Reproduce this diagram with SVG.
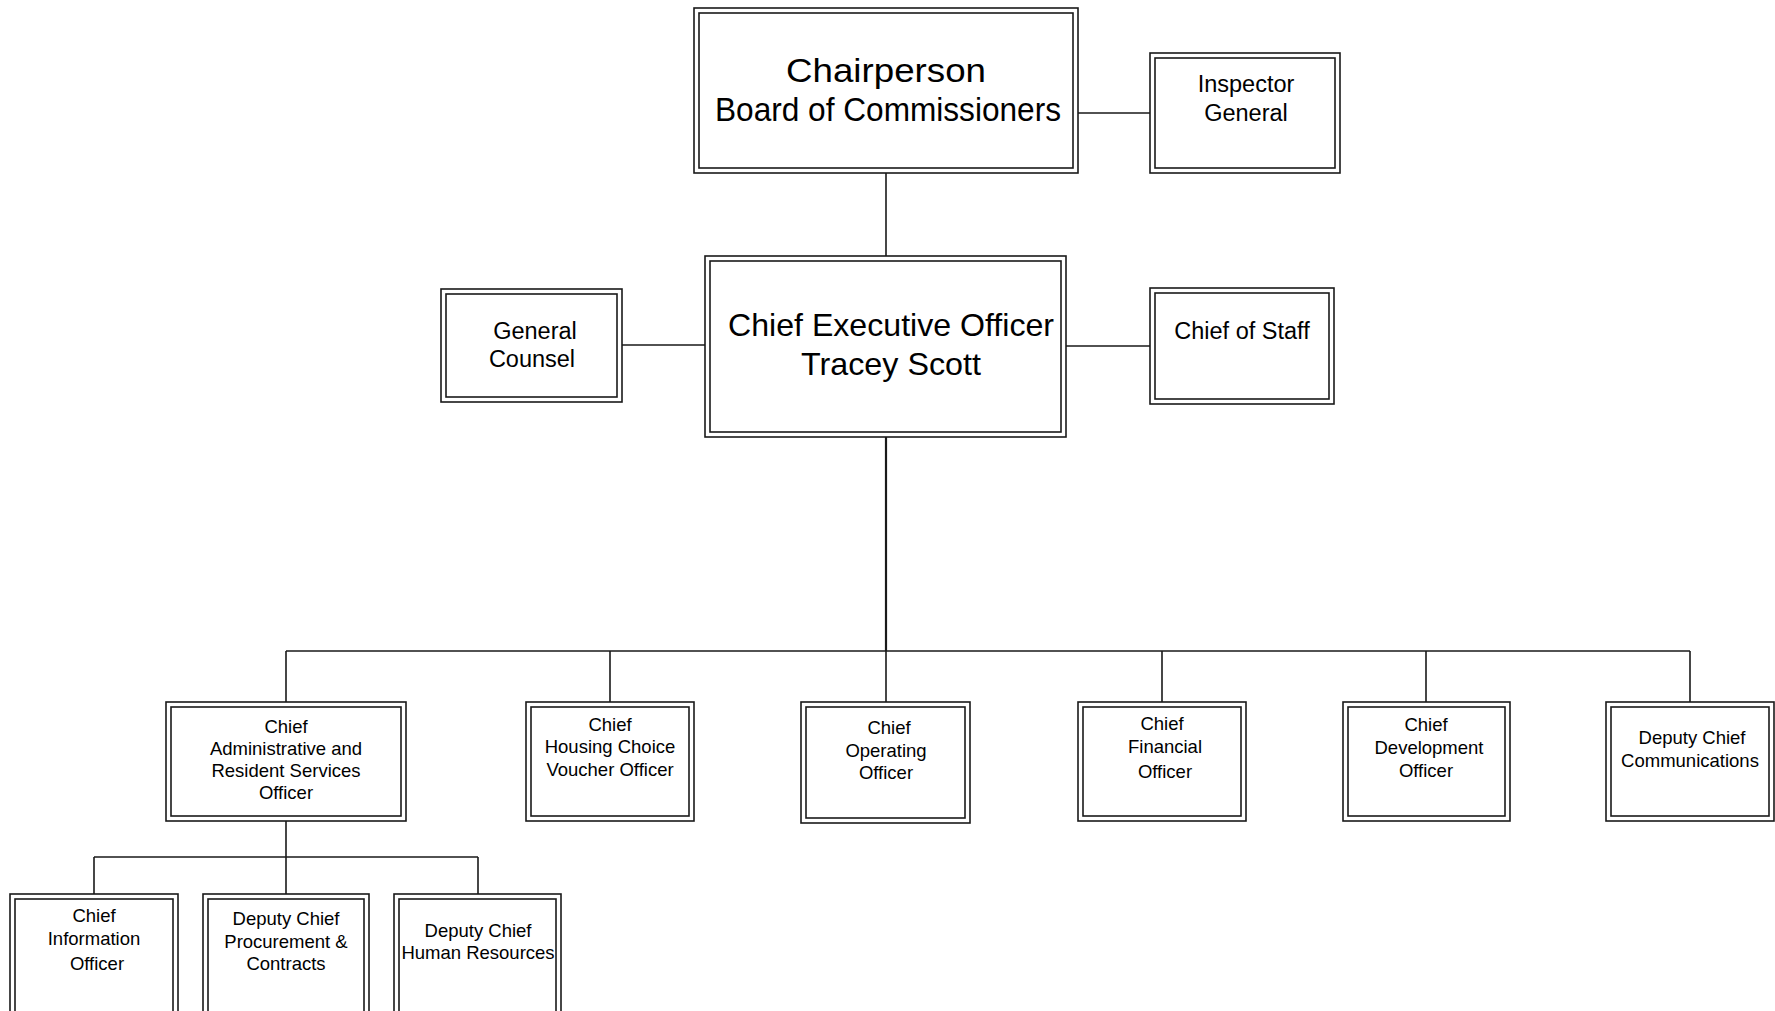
<svg xmlns="http://www.w3.org/2000/svg" width="1775" height="1011" viewBox="0 0 1775 1011">
<style>
.o{fill:#fff;stroke:#1a1a1a;stroke-width:1.6}
.i{fill:none;stroke:#1a1a1a;stroke-width:1.6}
.c{fill:none;stroke:#1a1a1a;stroke-width:1.6}
text{font-family:"Liberation Sans",Arial,sans-serif;fill:#000;text-anchor:middle}
.xl{font-size:32px}
.xxl{font-size:33px}
.l{font-size:23.5px}
.s{font-size:18.5px}
</style>
<rect width="1775" height="1011" fill="#fff"/>
<g id="connectors">
<path class="c" d="M886,173V256M1078,113H1150M622,345H705M1066,346H1150"/>
<path class="c" d="M886,437V651" style="stroke-width:2.2"/>
<path class="c" d="M286,651H1690M286,651V702M610,651V702M886,651V702M1162,651V702M1426,651V702M1690,651V702"/>
<path class="c" d="M286,821V857M94,857H478M94,857V894M286,857V894M478,857V894"/>
</g>
<g id="chair">
<rect class="o" x="694" y="8" width="384" height="165"/><rect class="i" x="699" y="13" width="374" height="155"/>
<text class="xxl" x="886" y="82" textLength="200" lengthAdjust="spacingAndGlyphs">Chairperson</text>
<text class="xxl" x="888" y="121" textLength="346" lengthAdjust="spacingAndGlyphs">Board of Commissioners</text>
</g>
<g id="inspector">
<rect class="o" x="1150" y="53" width="190" height="120"/><rect class="i" x="1155" y="58" width="180" height="110"/>
<text class="l" x="1246" y="92">Inspector</text>
<text class="l" x="1246" y="121">General</text>
</g>
<g id="ceo">
<rect class="o" x="705" y="256" width="361" height="181"/><rect class="i" x="710" y="261" width="351" height="171"/>
<text class="xl" x="891" y="336" textLength="326" lengthAdjust="spacingAndGlyphs">Chief Executive Officer</text>
<text class="xl" x="891" y="375" textLength="180" lengthAdjust="spacingAndGlyphs">Tracey Scott</text>
</g>
<g id="counsel">
<rect class="o" x="441" y="289" width="181" height="113"/><rect class="i" x="446" y="294" width="171" height="103"/>
<text class="l" x="535" y="339">General</text>
<text class="l" x="532" y="367">Counsel</text>
</g>
<g id="staff">
<rect class="o" x="1150" y="288" width="184" height="116"/><rect class="i" x="1155" y="293" width="174" height="106"/>
<text class="l" x="1242" y="339">Chief of Staff</text>
</g>
<g id="cao">
<rect class="o" x="166" y="702" width="240" height="119"/><rect class="i" x="171" y="707" width="230" height="109"/>
<text class="s" x="286" y="733">Chief</text>
<text class="s" x="286" y="755">Administrative and</text>
<text class="s" x="286" y="777">Resident Services</text>
<text class="s" x="286" y="799">Officer</text>
</g>
<g id="hcv">
<rect class="o" x="526" y="702" width="168" height="119"/><rect class="i" x="531" y="707" width="158" height="109"/>
<text class="s" x="610" y="731">Chief</text>
<text class="s" x="610" y="753">Housing Choice</text>
<text class="s" x="610" y="776">Voucher Officer</text>
</g>
<g id="coo">
<rect class="o" x="801" y="702" width="169" height="121"/><rect class="i" x="806" y="707" width="159" height="111"/>
<text class="s" x="889" y="734">Chief</text>
<text class="s" x="886" y="757">Operating</text>
<text class="s" x="886" y="779">Officer</text>
</g>
<g id="cfo">
<rect class="o" x="1078" y="702" width="168" height="119"/><rect class="i" x="1083" y="707" width="158" height="109"/>
<text class="s" x="1162" y="730">Chief</text>
<text class="s" x="1165" y="753">Financial</text>
<text class="s" x="1165" y="778">Officer</text>
</g>
<g id="cdo">
<rect class="o" x="1343" y="702" width="167" height="119"/><rect class="i" x="1348" y="707" width="157" height="109"/>
<text class="s" x="1426" y="731">Chief</text>
<text class="s" x="1429" y="754">Development</text>
<text class="s" x="1426" y="777">Officer</text>
</g>
<g id="dcc">
<rect class="o" x="1606" y="702" width="168" height="119"/><rect class="i" x="1611" y="707" width="158" height="109"/>
<text class="s" x="1692" y="744">Deputy Chief</text>
<text class="s" x="1690" y="767">Communications</text>
</g>
<g id="cio">
<rect class="o" x="10" y="894" width="168" height="130"/><rect class="i" x="15" y="899" width="158" height="120"/>
<text class="s" x="94" y="922">Chief</text>
<text class="s" x="94" y="945">Information</text>
<text class="s" x="97" y="970">Officer</text>
</g>
<g id="dcp">
<rect class="o" x="203" y="894" width="166" height="130"/><rect class="i" x="208" y="899" width="156" height="120"/>
<text class="s" x="286" y="925">Deputy Chief</text>
<text class="s" x="286" y="948">Procurement &amp;</text>
<text class="s" x="286" y="970">Contracts</text>
</g>
<g id="dchr">
<rect class="o" x="394" y="894" width="167" height="130"/><rect class="i" x="399" y="899" width="157" height="120"/>
<text class="s" x="478" y="937">Deputy Chief</text>
<text class="s" x="478" y="959">Human Resources</text>
</g>
</svg>
